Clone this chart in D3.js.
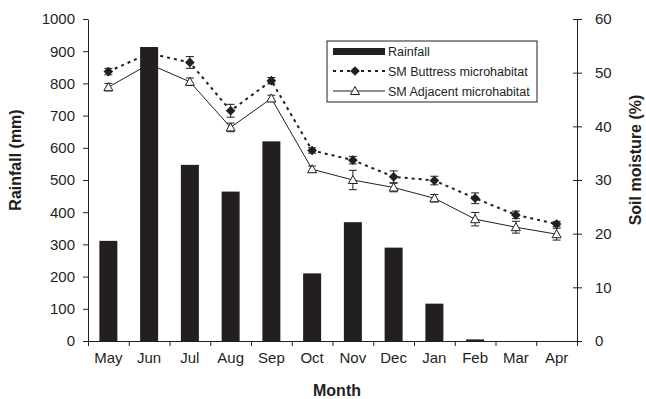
<!DOCTYPE html>
<html>
<head>
<meta charset="utf-8">
<script src="https://cdn.jsdelivr.net/npm/d3@7"></script>
<style>
  html, body { margin: 0; padding: 0; background: #fff; }
  svg { display: block; font-family: "Liberation Sans", Arial, sans-serif; }
</style>
</head>
<body>
<svg id="chart" width="646" height="399"></svg>
<script>
// Monthly rainfall and soil moisture (mean ± SE) in two microhabitats
const months = ["May", "Jun", "Jul", "Aug", "Sep", "Oct", "Nov", "Dec", "Jan", "Feb", "Mar", "Apr"];
const rainfall = [311, 913, 547, 464, 620, 210, 369, 290, 116, 5, 0, 0];
const smButtress = [50.2, 53.6, 51.9, 42.9, 48.5, 35.5, 33.7, 30.6, 29.9, 26.6, 23.5, 21.8];
const smButtressErr = [0.6, 0.6, 1.1, 1.2, 0.6, 0.5, 0.7, 1.1, 0.8, 1.0, 0.7, 0.5];
const smAdjacent = [47.3, 51.6, 48.3, 39.8, 45.2, 32.0, 30.0, 28.6, 26.6, 22.7, 21.2, 19.9];
const smAdjacentErr = [0.7, 0.6, 0.7, 0.8, 0.6, 0.6, 1.8, 0.8, 0.7, 1.25, 1.1, 1.1];
const rainTicks = [0, 100, 200, 300, 400, 500, 600, 700, 800, 900, 1000];
const smTicks = [0, 10, 20, 30, 40, 50, 60];

const ink = "#231f20";
const svg = d3.select("#chart");
const plotL = 88, plotR = 577, plotT = 19, plotB = 341;

const x = d3.scaleBand().domain(months).range([plotL, plotR]).padding(0);
const xEdge = d3.scaleLinear().domain([0, months.length]).range([plotL, plotR]);
const yRain = d3.scaleLinear().domain([0, 1000]).range([plotB, plotT]);
const ySM = d3.scaleLinear().domain([0, 60]).range([plotB, plotT]);
const cx = m => x(m) + x.bandwidth() / 2;

// Axes
const axisStyle = g => {
  g.attr("font-family", null);
  g.select(".domain").attr("stroke", ink).attr("stroke-width", 1);
  g.selectAll(".tick line").attr("stroke", ink);
  g.selectAll(".tick text").attr("fill", ink).style("font-size", "15px");
};

svg.append("g").attr("transform", `translate(${plotL},0)`)
  .call(d3.axisLeft(yRain).tickValues(rainTicks).tickFormat(d3.format("d"))
    .tickSize(5).tickPadding(8).tickSizeOuter(0))
  .call(axisStyle);

const rAxis = svg.append("g").attr("transform", `translate(${plotR},0)`)
  .call(d3.axisRight(ySM).tickValues(smTicks).tickSize(5).tickPadding(13).tickSizeOuter(0))
  .call(axisStyle);
rAxis.selectAll(".tick").append("line").attr("x1", -4).attr("x2", 0).attr("stroke", ink);

svg.append("g").attr("transform", `translate(0,${plotB})`)
  .call(d3.axisBottom(xEdge).tickValues(d3.range(0, months.length + 1)).tickFormat("").tickSize(5).tickSizeOuter(0))
  .call(axisStyle);

svg.append("g").attr("transform", `translate(0,${plotB})`)
  .call(d3.axisBottom(x).tickSize(0).tickPadding(11))
  .call(g => g.select(".domain").remove())
  .call(axisStyle);

// Soil moisture series
const seriesDefs = [
  { vals: smButtress, err: smButtressErr, dash: "3,4", width: 2, marker: "diamond" },
  { vals: smAdjacent, err: smAdjacentErr, dash: null, width: 1, marker: "triangle" }
];

const diamond = d3.symbol().type(d3.symbolDiamond2).size(60);
const triangle = "M0,-4.5L4.5,3.5L-4.5,3.5Z";

seriesDefs.forEach(s => {
  const line = d3.line().x((d, i) => cx(months[i])).y(d => ySM(d));
  svg.append("path").datum(s.vals)
    .attr("d", line)
    .attr("fill", "none")
    .attr("stroke", ink)
    .attr("stroke-width", s.width)
    .attr("stroke-dasharray", s.dash);

  const eb = svg.append("g").selectAll("g").data(s.vals).join("g")
    .attr("stroke", ink).attr("stroke-width", 1);
  eb.append("line")
    .attr("x1", (d, i) => cx(months[i])).attr("x2", (d, i) => cx(months[i]))
    .attr("y1", (d, i) => ySM(d - s.err[i])).attr("y2", (d, i) => ySM(d + s.err[i]));
  [-1, 1].forEach(sign => {
    eb.append("line")
      .attr("x1", (d, i) => cx(months[i]) - 4).attr("x2", (d, i) => cx(months[i]) + 4)
      .attr("y1", (d, i) => ySM(d + sign * s.err[i])).attr("y2", (d, i) => ySM(d + sign * s.err[i]));
  });

  const mk = svg.append("g").selectAll("path").data(s.vals).join("path")
    .attr("transform", (d, i) => `translate(${cx(months[i])},${ySM(d)})`);
  if (s.marker === "diamond") {
    mk.attr("d", diamond()).attr("fill", ink);
  } else {
    mk.attr("d", triangle).attr("fill", "#fff").attr("stroke", ink).attr("stroke-width", 1);
  }
});

// Rainfall bars, drawn over the moisture lines
const barW = 18;
svg.append("g").selectAll("rect").data(months).join("rect")
  .attr("x", (m) => cx(m) - barW / 2)
  .attr("y", (m, i) => yRain(rainfall[i]))
  .attr("width", barW)
  .attr("height", (m, i) => yRain(0) - yRain(rainfall[i]))
  .attr("fill", ink);

// Axis titles
svg.append("text")
  .attr("transform", `translate(21,160) rotate(-90)`)
  .attr("text-anchor", "middle")
  .attr("fill", ink).style("font-size", "16px").style("font-weight", "bold")
  .text("Rainfall (mm)");
svg.append("text")
  .attr("transform", `translate(641,160) rotate(-90)`)
  .attr("text-anchor", "middle")
  .attr("fill", ink).style("font-size", "16px").style("font-weight", "bold")
  .text("Soil moisture (%)");
svg.append("text")
  .attr("x", 337).attr("y", 396)
  .attr("text-anchor", "middle")
  .attr("fill", ink).style("font-size", "16px").style("font-weight", "bold")
  .text("Month");

// Legend
const lg = svg.append("g").attr("transform", "translate(327,41)");
lg.append("rect").attr("width", 210).attr("height", 61)
  .attr("fill", "#fff").attr("stroke", ink).attr("stroke-width", 1);
const legendRows = [
  { label: "Rainfall", type: "bar" },
  { label: "SM Buttress microhabitat", type: "diamond" },
  { label: "SM Adjacent microhabitat", type: "triangle" }
];
legendRows.forEach((r, k) => {
  const yy = 10 + k * 20;
  const row = lg.append("g").attr("transform", `translate(0,${yy})`);
  if (r.type === "bar") {
    row.append("rect").attr("x", 6).attr("y", -3).attr("width", 52).attr("height", 7).attr("fill", ink);
  } else if (r.type === "diamond") {
    row.append("line").attr("x1", 6).attr("x2", 58).attr("stroke", ink)
      .attr("stroke-width", 2).attr("stroke-dasharray", "3,4");
    row.append("path").attr("transform", "translate(28,0)").attr("d", diamond()).attr("fill", ink);
  } else {
    row.append("line").attr("x1", 6).attr("x2", 58).attr("stroke", ink).attr("stroke-width", 1);
    row.append("path").attr("transform", "translate(28,0)").attr("d", triangle)
      .attr("fill", "#fff").attr("stroke", ink);
  }
  row.append("text").attr("x", 61).attr("y", 4.5)
    .attr("fill", ink).style("font-size", "12.5px").text(r.label);
});
</script>
</body>
</html>
